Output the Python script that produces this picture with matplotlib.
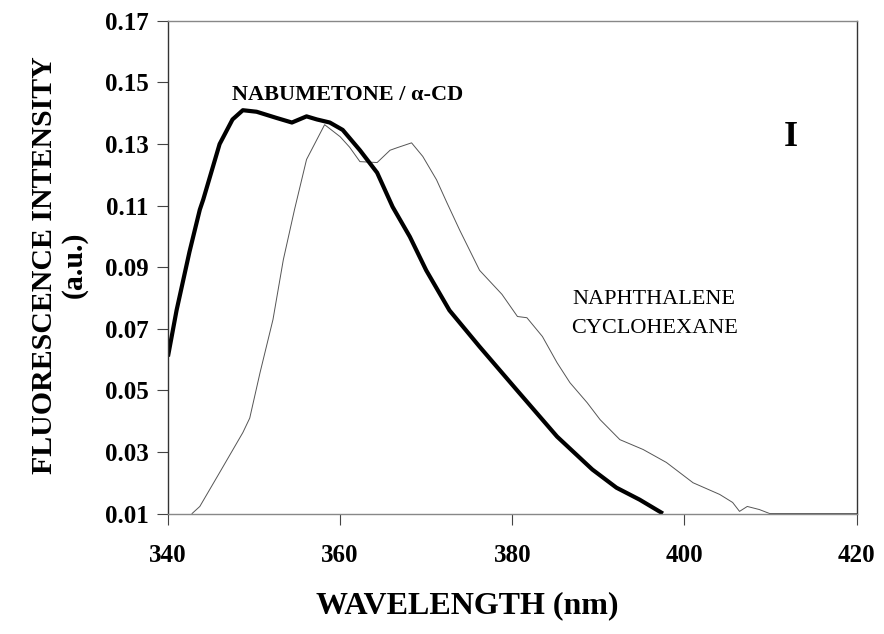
import numpy as np
import matplotlib
matplotlib.use("Agg")
import matplotlib.pyplot as plt

# NABUMETONE / alpha-CD (thick curve)
wl_nab = [340.0, 341.0, 342.5, 343.7, 344.1, 346.0, 347.5, 348.7, 350.3, 352.6, 354.4,
          356.1, 357.3, 358.8, 360.3, 362.3, 364.3, 366.1, 368.1, 370.0, 372.7,
          376.2, 380.5, 385.2, 389.3, 392.1, 394.8, 397.5]
fl_nab = [0.061, 0.076, 0.095, 0.1087, 0.112, 0.130, 0.138, 0.141, 0.1405, 0.1385, 0.137,
          0.139, 0.138, 0.137, 0.1346, 0.128, 0.1207, 0.1096, 0.0999, 0.089, 0.076,
          0.0642, 0.0502, 0.035, 0.0243, 0.0184, 0.0145, 0.010]

# NAPHTHALENE / CYCLOHEXANE (thin curve)
wl_nap = [342.8, 343.7, 346.0, 348.7, 349.5, 350.7, 352.2, 353.4, 354.7, 356.1, 358.2,
          360.0, 361.1, 362.3, 364.3, 365.8, 366.6, 368.3, 369.6, 371.2, 372.4, 373.9,
          376.2, 378.8, 380.6, 381.7, 383.5, 385.2, 386.7, 388.7, 390.2, 392.5, 395.2,
          397.9, 401.0, 404.1, 405.6, 406.4, 407.3, 408.7, 409.9, 420.0]
fl_nap = [0.010, 0.0123, 0.0233, 0.0363, 0.041, 0.0558, 0.073, 0.0924, 0.1087, 0.125, 0.1363,
          0.1324, 0.129, 0.1243, 0.124, 0.128, 0.1288, 0.1304, 0.126, 0.1184, 0.111, 0.102,
          0.089, 0.0812, 0.074, 0.0736, 0.0675, 0.059, 0.0525, 0.046, 0.0405, 0.034, 0.0308,
          0.0266, 0.020, 0.0162, 0.0136, 0.0107, 0.0123, 0.0113, 0.010, 0.010]

x_ticks = [340, 360, 380, 400, 420]
y_ticks = [0.01, 0.03, 0.05, 0.07, 0.09, 0.11, 0.13, 0.15, 0.17]

plt.rcParams['font.family'] = ['Liberation Serif', 'DejaVu Serif']

fig = plt.figure(figsize=(8.84, 6.34), dpi=100)
ax = fig.add_axes([0.190, 0.190, 0.779, 0.777])

ax.plot(wl_nap, fl_nap, color='#555555', lw=0.7)
ax.plot(wl_nab, fl_nab, color='black', lw=3.0, solid_capstyle='butt')

ax.set_xlim(340, 420)
ax.set_ylim(0.01, 0.17)
ax.set_xticks(x_ticks)
ax.set_yticks(y_ticks)
ax.set_xticklabels([str(v) for v in x_ticks], fontsize=18, fontweight='bold')
ax.set_yticklabels(["%.2f" % v for v in y_ticks], fontsize=18, fontweight='bold')
ax.tick_params(direction='out', length=8, width=0.8, color='#444444', pad=6)
ax.tick_params(axis='x', pad=14)

for side in ['top', 'bottom']:
    ax.spines[side].set_color('#888888')
    ax.spines[side].set_linewidth(1.0)
for side in ['left', 'right']:
    ax.spines[side].set_color('#333333')
    ax.spines[side].set_linewidth(1.0)

ax.set_xlabel("WAVELENGTH (nm)", fontsize=23, fontweight='bold')
ax.xaxis.set_label_coords(0.435, -0.157)
ax.set_ylabel("FLUORESCENCE INTENSITY\n(a.u.)", fontsize=21.5, fontweight='bold',
              linespacing=1.15)
ax.yaxis.set_label_coords(-0.116, 0.505)

ax.text(347.4, 0.146, "NABUMETONE / α-CD", fontsize=16, fontweight='bold',
        ha='left', va='center')
ax.text(396.5, 0.0748, "NAPHTHALENE\nCYCLOHEXANE", fontsize=16, ha='center',
        va='center', linespacing=1.7)
ax.text(412.3, 0.132, "I", fontsize=26, fontweight='bold', ha='center', va='center')

fig.savefig("out.png", dpi=100)
